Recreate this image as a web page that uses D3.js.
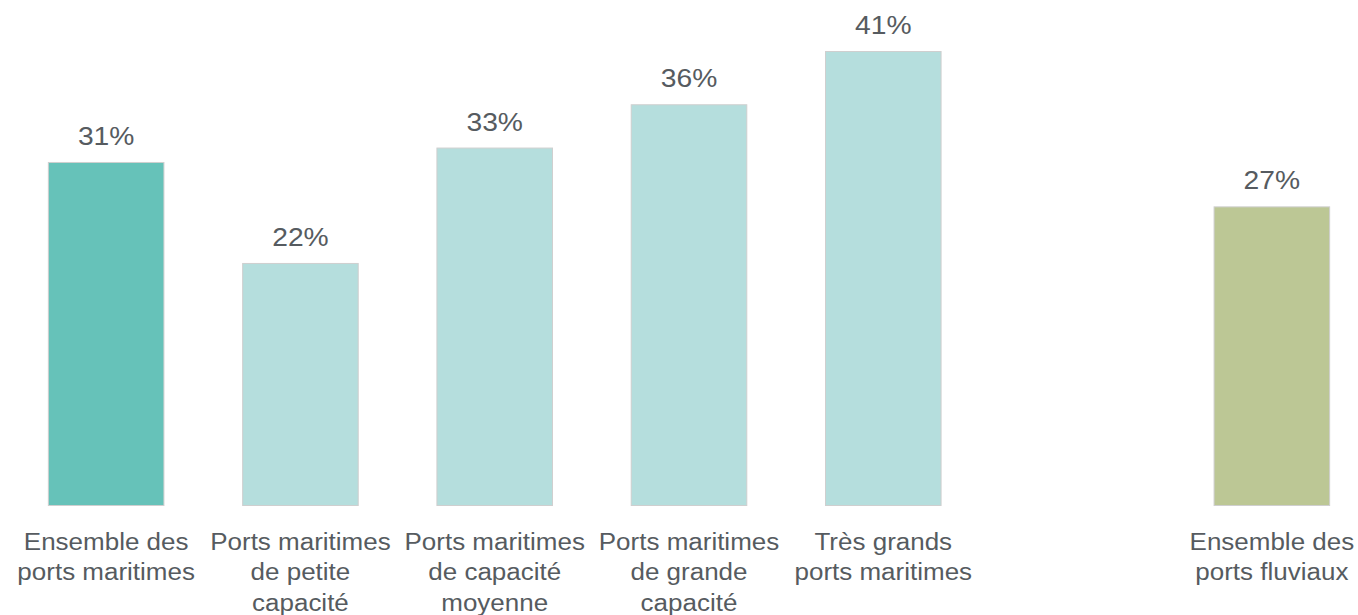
<!DOCTYPE html>
<meta charset="utf-8">
<script src="https://cdn.jsdelivr.net/npm/d3@7"></script>
<style>
body { margin: 0; background: #fff; }
text {
  font-family: "Liberation Sans", Arial, sans-serif;
  fill: #565b60;
}
.bar { stroke: #cfcfcf; stroke-width: 1px; }
</style>
<body>
<script>
var width = 1358,
    height = 615,
    stretch = 1.13; // the source text is drawn a bit wide

// slot "gap" stays empty between maritime and river ports
var categories = ["mar_all", "mar_small", "mar_mid", "mar_large", "mar_xl", "gap", "fluv_all"];
var catLabels = [
  ["Ensemble des", "ports maritimes"],
  ["Ports maritimes", "de petite", "capacité"],
  ["Ports maritimes", "de capacité", "moyenne"],
  ["Ports maritimes", "de grande", "capacité"],
  ["Très grands", "ports maritimes"],
  [],
  ["Ensemble des", "ports fluviaux"]
];
var values = [31.0, 21.9, 32.3, 36.2, 41.0, null, 27.0];
var valueLabels = ["31%", "22%", "33%", "36%", "41%", "", "27%"];
var colors = ["#66c2b9", "#b5dedd", "#b5dedd", "#b5dedd", "#b5dedd", "none", "#bcc795"];

var svg = d3.select("body").append("svg")
    .attr("width", width)
    .attr("height", height);

var x = d3.scaleBand()
    .domain(categories)
    .range([9, 1369])
    .paddingInner(0.4)
    .paddingOuter(0.2);

var y = d3.scaleLinear()
    .domain([0, 41])
    .range([506, 51]);

var data = categories.map(function(c, i) {
  return {key: c, value: values[i], label: valueLabels[i], color: colors[i], lines: catLabels[i]};
});

var shown = data.filter(function(d) { return d.value != null; });

svg.selectAll("rect.bar")
  .data(shown)
  .enter().append("rect")
    .attr("class", "bar")
    .attr("x", function(d) { return x(d.key) + 0.5; })
    .attr("y", function(d) { return y(d.value) + 0.5; })
    .attr("width", x.bandwidth() - 1)
    .attr("height", function(d) { return y(0) - y(d.value) - 1; })
    .attr("fill", function(d) { return d.color; });

svg.selectAll("text.val")
  .data(shown)
  .enter().append("text")
    .attr("class", "val")
    .attr("transform", function(d) {
      return "translate(" + (x(d.key) + x.bandwidth() / 2) + "," + (y(d.value) - 17) + ")scale(" + stretch + ",1)";
    })
    .attr("text-anchor", "middle")
    .attr("font-size", 25)
    .text(function(d) { return d.label; });

var cat = svg.selectAll("text.cat")
  .data(data)
  .enter().append("text")
    .attr("class", "cat")
    .attr("text-anchor", "middle")
    .attr("font-size", 23)
    .attr("transform", function(d) {
      return "translate(" + (x(d.key) + x.bandwidth() / 2) + ",550)scale(" + stretch + ",1)";
    });

cat.selectAll("tspan")
  .data(function(d) { return d.lines; })
  .enter().append("tspan")
    .attr("x", 0)
    .attr("y", function(d, i) { return i * 30.5; })
    .text(function(d) { return d; });
</script>
</body>
